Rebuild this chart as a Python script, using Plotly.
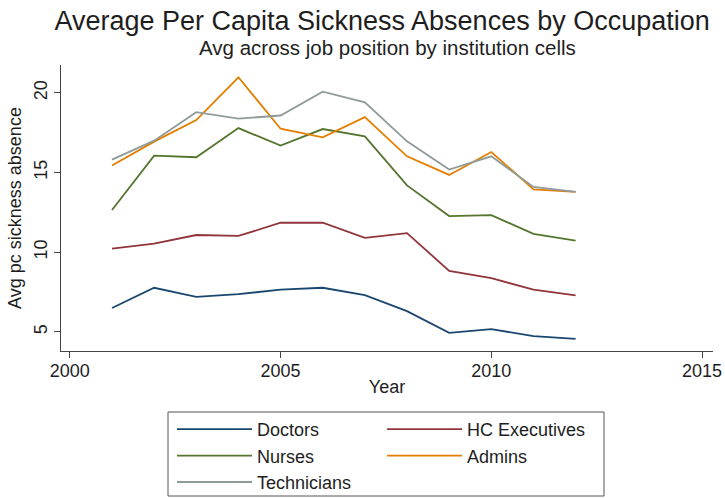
import plotly.graph_objects as go

years = [2001, 2002, 2003, 2004, 2005, 2006, 2007, 2008, 2009, 2010, 2011, 2012]
doctors = [6.5, 7.77, 7.2, 7.37, 7.65, 7.77, 7.3, 6.3, 4.94, 5.17, 4.73, 4.56]
hc_execs = [10.23, 10.54, 11.08, 11.02, 11.85, 11.85, 10.9, 11.2, 8.83, 8.37, 7.65, 7.29]
nurses = [12.65, 16.06, 15.96, 17.79, 16.69, 17.73, 17.27, 14.19, 12.27, 12.33, 11.15, 10.73]
admins = [15.44, 16.94, 18.29, 20.98, 17.75, 17.21, 18.48, 16.02, 14.85, 16.29, 13.94, 13.79]
technicians = [15.81, 17.0, 18.79, 18.38, 18.58, 20.08, 19.4, 16.96, 15.19, 16.02, 14.1, 13.79]

x_ticks = [2000, 2005, 2010, 2015]
y_ticks = [5, 10, 15, 20]

FONT = "Liberation Sans, Arial, sans-serif"
TXT = "#1e1e1e"

series = [
    ("Doctors", doctors, "#1a476f", "legend"),
    ("HC Executives", hc_execs, "#90353b", "legend2"),
    ("Nurses", nurses, "#55752f", "legend"),
    ("Admins", admins, "#e37e00", "legend2"),
    ("Technicians", technicians, "#8f9b99", "legend"),
]

fig = go.Figure()
for name, vals, color, lg in series:
    fig.add_trace(go.Scatter(x=years, y=vals, mode="lines", name=name,
                             line=dict(color=color, width=1.8), legend=lg))

# plot area in pixels: left 61, right 713, top 65, bottom 351
L, R, T, B = 61, 713, 65, 351
W, H = 725, 498
pw, ph = R - L, B - T

def px(xp):
    return (xp - L) / pw

def py(yp):
    return (B - yp) / ph

fig.update_layout(
    width=W, height=H,
    margin=dict(l=L, r=W - R, t=T, b=H - B, autoexpand=False),
    paper_bgcolor="white", plot_bgcolor="white",
    font=dict(family=FONT, size=18, color=TXT),
    title=dict(text="Average Per Capita Sickness Absences by Occupation",
               x=0.527, xanchor="center", y=1 - 21 / H, yanchor="middle",
               yref="container", font=dict(size=27, color=TXT)),
    showlegend=True,
    legend=dict(x=px(172), y=py(411), xanchor="left", yanchor="top",
                bgcolor="rgba(0,0,0,0)", borderwidth=0, itemwidth=75,
                font=dict(size=18, color=TXT), tracegroupgap=0),
    legend2=dict(x=px(382), y=py(411), xanchor="left", yanchor="top",
                 bgcolor="rgba(0,0,0,0)", borderwidth=0, itemwidth=75,
                 font=dict(size=18, color=TXT), tracegroupgap=0),
    annotations=[dict(text="Avg across job position by institution cells",
                      xref="paper", yref="paper", x=px(387), y=py(47),
                      xanchor="center", yanchor="middle", showarrow=False,
                      font=dict(size=20.5, color=TXT))],
    shapes=[dict(type="rect", xref="paper", yref="paper",
                 x0=px(168), x1=px(604), y0=py(496), y1=py(412),
                 line=dict(color="#555555", width=1))],
)

fig.update_xaxes(range=[1999.79, 2015.26], tickvals=x_ticks, ticks="outside", ticklen=6,
                 tickcolor="#444", showline=True, linecolor="#444", linewidth=1,
                 showgrid=False, zeroline=False, ticklabelstandoff=-3,
                 title=dict(text="Year", standoff=0, font=dict(size=18)),
                 tickfont=dict(size=18))
fig.update_yaxes(range=[3.8, 21.75], tickvals=y_ticks, ticks="outside", ticklen=6,
                 tickcolor="#444", showline=True, linecolor="#444", linewidth=1,
                 showgrid=False, zeroline=False, tickangle=-90,
                 title=dict(text="Avg pc sickness absence", standoff=4, font=dict(size=18)),
                 tickfont=dict(size=18))

fig.write_html("out.html")
